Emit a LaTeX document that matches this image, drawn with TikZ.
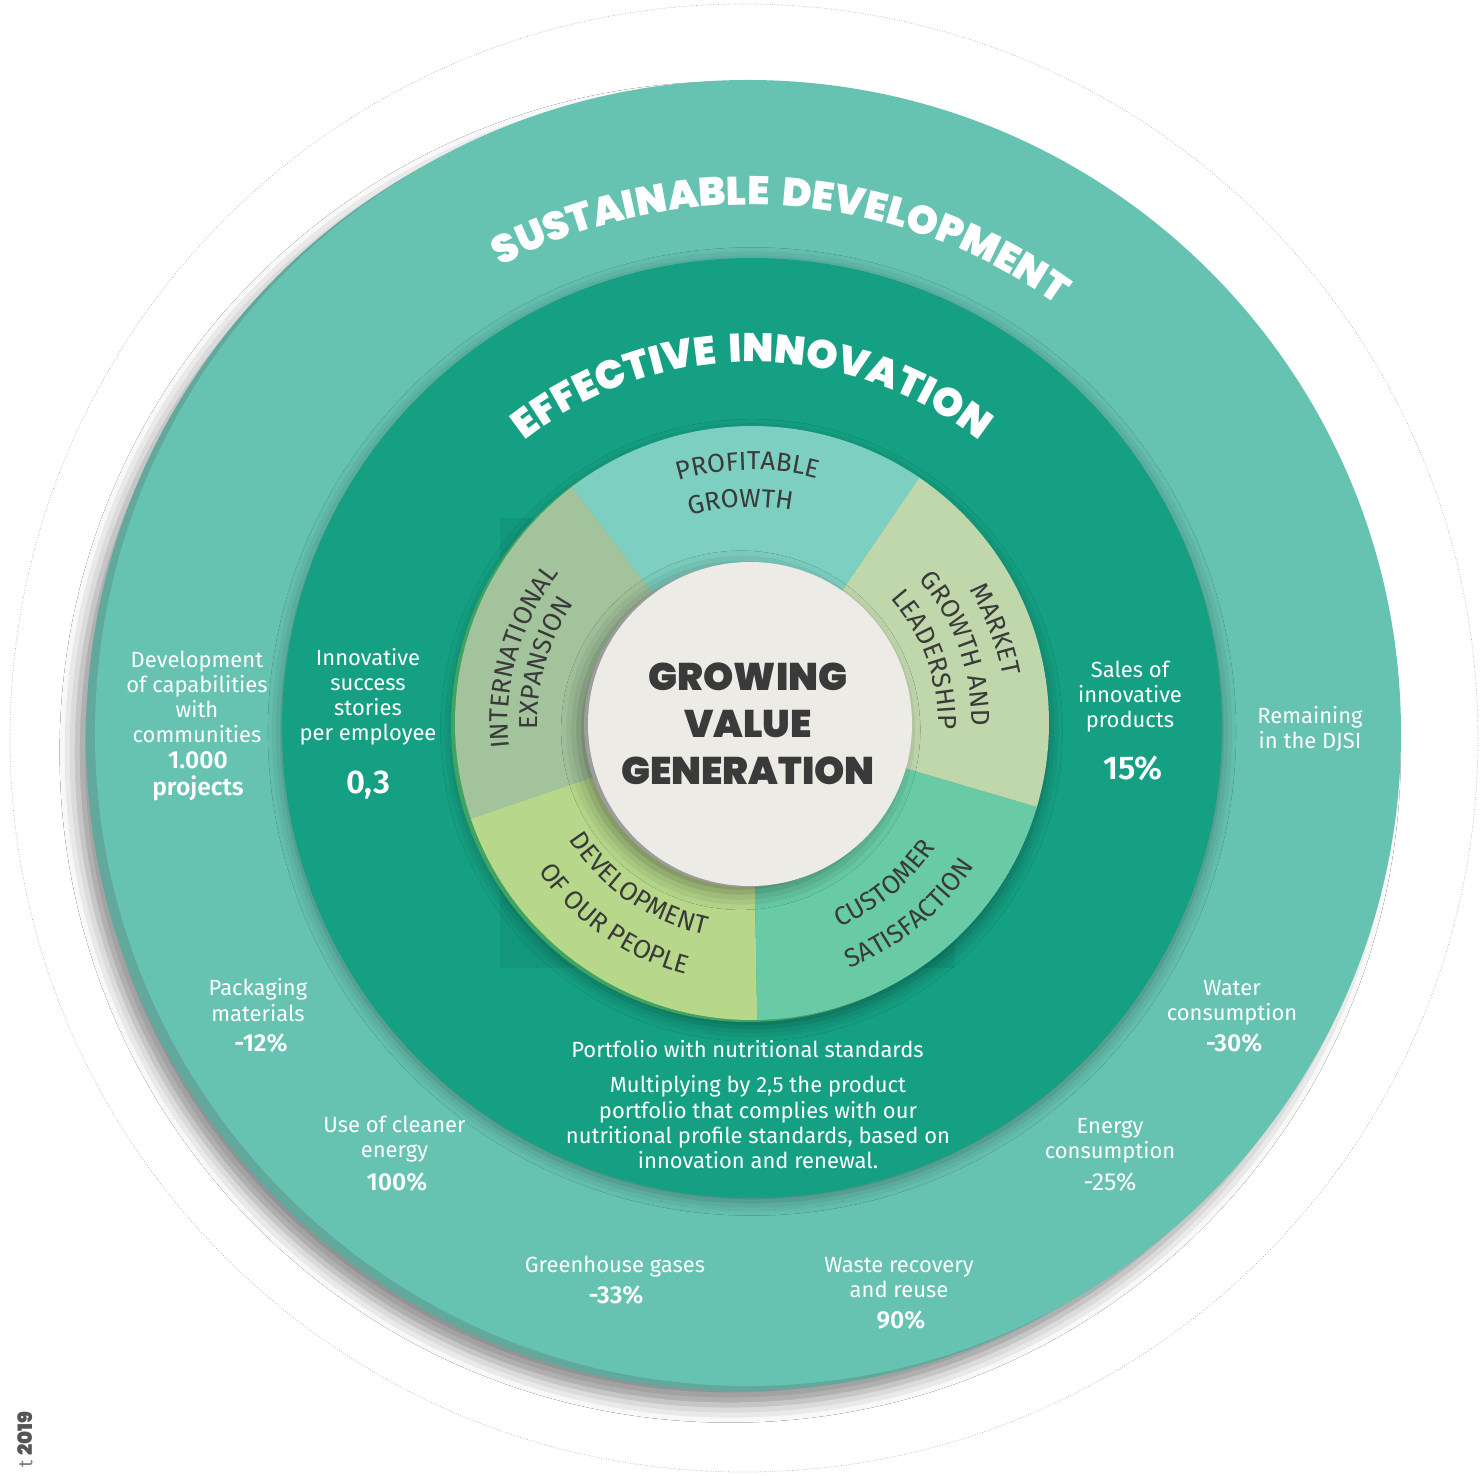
\documentclass[tikz,border=0pt]{standalone}
\usepackage{fontspec}
\setmainfont{Fira Sans}[BoldFont={Fira Sans SemiBold}]
\newfontfamily\segfamily{Fira Sans}
\newfontfamily\heavyfont{Poppins Black}
\usetikzlibrary{decorations.text,shadows.blur}

\definecolor{outerteal}{HTML}{66C2B1}
\definecolor{outerrim}{HTML}{62A89C}
\definecolor{innerteal}{HTML}{15A083}
\definecolor{boxshade}{HTML}{12977B}
\definecolor{ringrim}{HTML}{3FA362}
\definecolor{profit}{HTML}{7DCFC1}
\definecolor{market}{HTML}{C0D7AC}
\definecolor{customer}{HTML}{68CBA6}
\definecolor{people}{HTML}{B7D88B}
\definecolor{intl}{HTML}{A3C39C}
\definecolor{hub}{HTML}{ECEBE5}
\definecolor{hubrim}{HTML}{9C9C9C}
\definecolor{segtext}{HTML}{3A3A3A}
\definecolor{hubtext}{HTML}{3A3A3A}
\definecolor{yeartext}{HTML}{555555}

\newcommand\txtfont{\fontsize{12.5}{14.3}\selectfont}
\newcommand\numfont{\bfseries\fontsize{14}{15.3}\selectfont}
\newcommand\bignumfont{\bfseries\fontsize{18.7}{20}\selectfont}
\newcommand\segtxt{\segfamily\fontsize{14.8}{17}\selectfont}
\newcommand\arcfont{\heavyfont\fontsize{22.7}{27}\selectfont}
\newcommand\hubfont{\heavyfont\fontsize{21.9}{26.9}\selectfont}

\begin{document}
\begin{tikzpicture}[x=0.02cm, y=0.02cm,
  figtext/.style={text=white, align=center, font=\txtfont, inner sep=0pt},
  figvalue/.style={text=white, align=center, font=\numfont, inner sep=0pt},
  bignum/.style={text=white, font=\bignumfont, inner sep=0pt},
  arclabel/.style={decorate, decoration={text along path, text align=center, text color=segtext, text={#1}}},
  ringlabel/.style={decorate, decoration={text along path, text align=center, text color=white, text={#1}}}]
\useasboundingbox (-752,-751) rectangle (728,725);
\fill[white] (-752,-751) rectangle (728,725);

% outer rings
\draw[gray!60, densely dotted, line width=0.4pt] (-8,-13) circle[radius=734];
\fill[outerrim, blur shadow={shadow xshift=-5pt, shadow yshift=-8pt, shadow blur radius=10pt, shadow opacity=45}] (-13,-13) circle[radius=653];
\fill[outerteal] (-4,-8) circle[radius=653];
\fill[innerteal, blur shadow={shadow xshift=0pt, shadow yshift=-2pt, shadow blur radius=8pt, shadow opacity=35}] (0,-3) circle[radius=470];
\fill[boxshade] (-252,-243) rectangle (203,207);

% value wheel
\fill[ringrim, blur shadow={shadow xshift=2pt, shadow yshift=-3pt, shadow blur radius=8pt, shadow opacity=35}] (-4,0) circle[radius=297];
\fill[profit] (0,2) -- ++(55.7:297) arc[start angle=55.7, end angle=127.4, radius=297] -- cycle;
\fill[intl] (0,2) -- ++(127.4:297) arc[start angle=127.4, end angle=198.8, radius=297] -- cycle;
\fill[people] (0,2) -- ++(198.8:297) arc[start angle=198.8, end angle=271, radius=297] -- cycle;
\fill[customer] (0,2) -- ++(-89:297) arc[start angle=-89, end angle=-16.4, radius=297] -- cycle;
\fill[market] (0,2) -- ++(-16.4:297) arc[start angle=-16.4, end angle=55.7, radius=297] -- cycle;
\fill[hubrim, blur shadow={shadow xshift=-3pt, shadow yshift=-3pt, shadow blur radius=10pt, shadow opacity=40}] (-6,0) circle[radius=162];
\fill[hub] (-2,1) circle[radius=162];

% curved titles
\path[ringlabel={|\arcfont|SUSTAINABLE{\hskip0.3em}DEVELOPMENT}] (-4,-8) ++(150:528) arc[start angle=150, end angle=22, radius=528];
\path[ringlabel={|\arcfont|EFFECTIVE{\hskip0.3em}INNOVATION}] (0,-3) ++(155:366) arc[start angle=155, end angle=25, radius=366];

% wheel labels
\path[arclabel={|\segtxt|PROFITABLE}] (0,2) ++(151:253) arc[start angle=151, end angle=31, radius=253];
\path[arclabel={|\segtxt|GROWTH}] (0,2) ++(153:216) arc[start angle=153, end angle=33, radius=216];
\path[arclabel={|\segtxt|INTERNATIONAL}] (0,2) ++(224:244) arc[start angle=224, end angle=104, radius=244];
\path[arclabel={|\segtxt|EXPANSION}] (0,2) ++(224:214) arc[start angle=224, end angle=104, radius=214];
\path[arclabel={|\segtxt|MARKET}] (0,2) ++(81:255) arc[start angle=81, end angle=-39, radius=255];
\path[arclabel={|\segtxt|GROWTH AND}] (0,2) ++(80:220) arc[start angle=80, end angle=-40, radius=220];
\path[arclabel={|\segtxt|LEADERSHIP}] (0,2) ++(80:186) arc[start angle=80, end angle=-40, radius=186];
\path[arclabel={|\segtxt|CUSTOMER}] (0,2) ++(-110.5:222) arc[start angle=-110.5, end angle=9.5, radius=222];
\path[arclabel={|\segtxt|SATISFACTION}] (0,2) ++(-110.5:264) arc[start angle=-110.5, end angle=9.5, radius=264];
\path[arclabel={|\segtxt|DEVELOPMENT}] (0,2) ++(-185:217) arc[start angle=-185, end angle=-65, radius=217];
\path[arclabel={|\segtxt|OF OUR PEOPLE}] (0,2) ++(-185:260) arc[start angle=-185, end angle=-65, radius=260];

\node[font=\hubfont, text=hubtext, align=center, inner sep=0pt, anchor=north] (hubtxt) at (-4,63) {GROWING\\VALUE\\GENERATION};

% indicators
\node[figtext, anchor=north] (capab) at (-555,74.5) {Development\\of capabilities\\with\\communities};
\node[figvalue, anchor=north] (capabval) at (-554,-26) {1.000\\projects};
\node[figtext, anchor=north] (stories) at (-384,77) {Innovative\\success\\stories\\per employee};
\node[bignum, anchor=base] (storiesval) at (-384,-69) {0,3};
\node[figtext, anchor=north] (sales) at (378,64.5) {Sales of\\innovative\\products};
\node[bignum, anchor=base] (salesval) at (381,-55) {15\%};
\node[figtext, anchor=north] (djsi) at (558,19) {Remaining\\in the DJSI};
\node[figtext, anchor=north] (packaging) at (-494,-253.5) {Packaging\\materials};
\node[figvalue, anchor=base] (packagingval) at (-491,-327) {-12\%};
\node[figtext, anchor=north] (cleaner) at (-357.5,-390.5) {Use of cleaner\\energy};
\node[figvalue, anchor=base] (cleanerval) at (-355,-465) {100\%};
\node[figtext, anchor=north] (water) at (480,-255) {Water\\consumption};
\node[figvalue, anchor=base] (waterval) at (482,-327) {-30\%};
\node[figtext, anchor=north] (energy) at (358,-393) {Energy\\consumption};
\node[figvalue, anchor=base, font=\fontsize{14}{15.3}\selectfont] (energyval) at (358,-465) {-25\%};
\node[figtext, anchor=base] (ghg) at (-137,-547) {Greenhouse gases};
\node[figvalue, anchor=base] (ghgval) at (-136,-578) {-33\%};
\node[figtext, anchor=north] (waste) at (147,-532) {Waste recovery\\and reuse};
\node[figvalue, anchor=base] (wasteval) at (149,-603) {90\%};
\node[figtext, anchor=base] (portfolio) at (-4.5,-333) {Portfolio with nutritional standards};
\node[figtext, anchor=north] (portfoliotxt) at (6,-350.5) {Multiplying by 2,5 the product\\portfolio that complies with our\\nutritional profile standards, based on\\innovation and renewal.};

\node[rotate=90, anchor=east, inner sep=0pt, text=gray, font=\fontsize{11.3}{12}\selectfont] (year) at (-727,-686) {t {\heavyfont\color{yeartext}2019}};
\end{tikzpicture}
\end{document}
